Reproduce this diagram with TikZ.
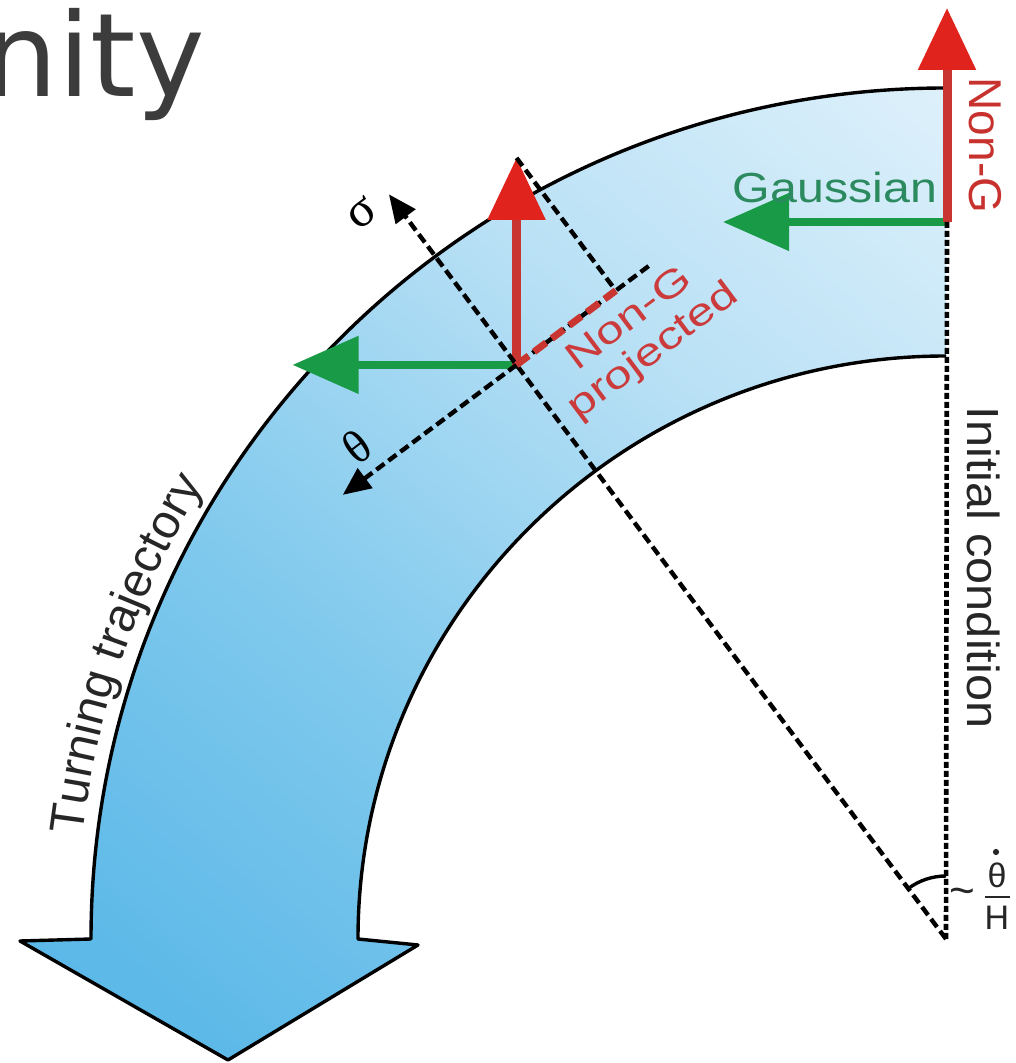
\documentclass[tikz,border=0pt]{standalone}
\usepackage{fontspec}
\setmainfont{Liberation Sans}
\newfontfamily\dejavu{DejaVu Sans}
\newfontfamily\greekserif{Liberation Serif}
\usetikzlibrary{arrows.meta,calc,decorations.text}

\definecolor{bandA}{HTML}{4FB2E4}
\definecolor{bandB}{HTML}{5DB9E8}
\definecolor{bandC}{HTML}{80C9ED}
\definecolor{bandD}{HTML}{B8E0F5}
\definecolor{bandE}{HTML}{D8EEFA}
\definecolor{bandF}{HTML}{F2F9FD}
\definecolor{vred}{HTML}{C93631}
\definecolor{vredhead}{HTML}{E0241D}
\definecolor{vgreen}{HTML}{189A46}
\definecolor{gtext}{HTML}{2B8A5E}
\definecolor{rtext}{HTML}{C8322E}
\definecolor{ptext}{HTML}{CC3B3B}
\definecolor{darktext}{HTML}{262626}
\definecolor{nitygray}{HTML}{3C3C3C}

\pgfdeclareverticalshading{bandshade}{100bp}{color(0bp)=(bandA); color(22bp)=(bandB); color(42bp)=(bandC); color(64bp)=(bandD); color(82bp)=(bandE); color(100bp)=(bandF)}

\tikzset{
  outline/.style={draw=black, line width=3.4pt, line join=round},
  axisdash/.style={black, line width=4.4pt, dash pattern=on 10pt off 5pt},
  vdash/.style={black, line width=4.6pt, dash pattern=on 6pt off 3pt},
  reddash/.style={vred, line width=7pt, dash pattern=on 15pt off 7pt},
  redvec/.style={draw=vred, line width=9pt, -{Triangle[length=62pt,width=56pt,color=vredhead]}},
  greenvec/.style={draw=vgreen, line width=8pt, -{Triangle[length=66pt,width=56pt]}},
  axistip/.style={-{Triangle[length=28pt,width=24pt]}},
  lbl/.style={inner sep=0pt, outer sep=0pt},
}

\begin{document}
\begin{tikzpicture}[x=1pt,y=1pt]
\path[use as bounding box, clip] (0,0) rectangle (1016,1063);
\fill[white] (0,0) rectangle (1016,1063);

% big title fragment
\node[lbl, anchor=base west, font=\dejavu\fontsize{116}{116}\selectfont, text=nitygray] (nity) at (-15,966) {nity};

\coordinate (C) at (946,124);

% band
\path[shading=bandshade, shading angle=-40]
  (946,975) arc[start angle=90, end angle=180, x radius=855, y radius=851]
  -- (20,122) -- (228,3) -- (418,118) -- (358,124)
  arc[start angle=180, end angle=90, x radius=588, y radius=583] -- cycle;
\draw[outline]
  (946,975) arc[start angle=90, end angle=180, x radius=855, y radius=851]
  -- (20,122) -- (228,3) -- (418,118) -- (358,124)
  arc[start angle=180, end angle=90, x radius=588, y radius=583];

% key points
\coordinate (O1) at (947,841);
\coordinate (R1) at (947,1055);
\coordinate (G1) at (723,841);
\coordinate (O2) at ($(C)+(126.8:717)$);
\coordinate (R2) at ($(O2)+(0,207)$);
\coordinate (G2) at ($(O2)+(-224,0)$);
\coordinate (S) at ($(C)+(126.8:930)$);
\coordinate (T) at ($(O2)+(216.8:217)$);
\coordinate (E) at ($(O2)+(36.8:165)$);
\coordinate (F) at ($(O2)!(R2)!(E)$);

% vectors
\draw[greenvec] (O1) -- (G1);
\draw[redvec] (O1) -- (R1);
\draw[greenvec] (O2) -- (G2);
\draw[redvec] (O2) -- (R2);

% dashed axes
\draw[vdash] (O1) -- (C);
\draw[axisdash, axistip] (C) -- (S);
\draw[axisdash, axistip] (E) -- (T);
\draw[axisdash] (R2) -- (F);
\draw[reddash] (O2) -- (F);

% angle
\draw[line width=3.4pt] ($(C)+(90:63)$) arc[start angle=90, end angle=126.8, radius=63];

% labels
\node[lbl, font=\fontsize{42}{42}\selectfont, text=gtext, xscale=1.15] (gauss) at (835,875.5) {Gaussian};
\node[lbl, font=\fontsize{46}{46}\selectfont, text=rtext, rotate=-90] (nong) at (985,917.5) {Non-G};
\node[lbl, font=\fontsize{45}{45}\selectfont, text=darktext, rotate=-90, xscale=1.08] (init) at (984,495.5) {Initial condition};
\node[lbl, font=\fontsize{38}{40}\selectfont, text=ptext, rotate=36.8, xscale=1.3, align=center] (proj) at (642,727) {Non-G\\projected};
\node[lbl, font=\greekserif\fontsize{50}{50}\selectfont, text=black, rotate=36.8] (sig) at (362,850) {σ};
\node[lbl, font=\greekserif\fontsize{47}{47}\selectfont, text=black, rotate=36.8] (th) at (357,616) {θ};

\path[decorate, decoration={text along path, text={|\fontsize{48}{48}\selectfont|Turning trajectory}, text color=darktext, text align=center}]
  ($(C)+(180:870)$) arc[start angle=180, end angle=141.7, radius=870];

% ratio label
\node[lbl, font=\fontsize{44}{44}\selectfont, text=darktext] (tilde) at (962,166) {\char"007E};
\node[circle, fill=darktext, inner sep=2.2pt] (dot) at (996,211) {};
\node[lbl, font=\fontsize{34}{34}\selectfont, text=darktext] (thn) at (997,188) {θ};
\node[lbl, font=\fontsize{34}{34}\selectfont, text=darktext] (hn) at (997,145) {H};
\draw[line width=2pt, darktext] (985,166) -- (1010,166);
\end{tikzpicture}
\end{document}
